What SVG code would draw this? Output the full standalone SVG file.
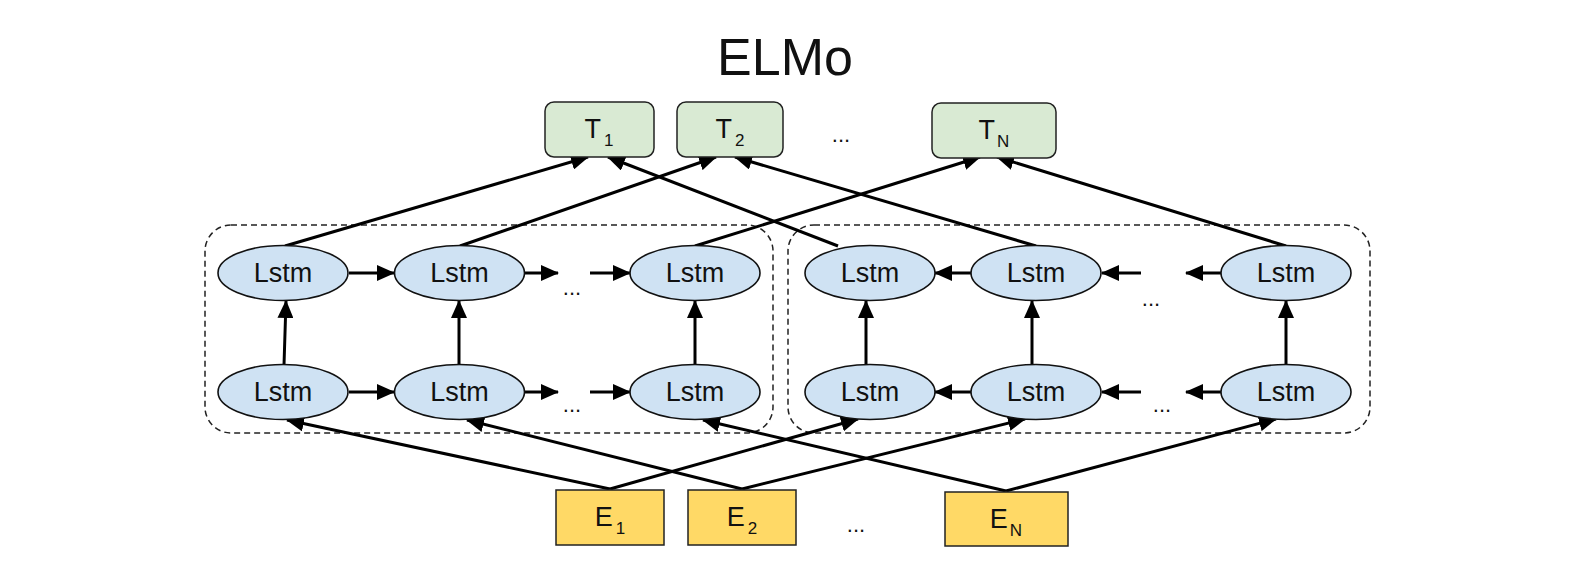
<svg xmlns="http://www.w3.org/2000/svg" width="1570" height="580" viewBox="0 0 1570 580">
<style>
  text { font-family: "Liberation Sans", Arial, sans-serif; fill: #111; }
  .title { font-size: 52px; }
  .tbox { fill: #d9ead3; stroke: #222; stroke-width: 1.5; }
  .ebox { fill: #ffd966; stroke: #222; stroke-width: 1.5; }
  .lstm { fill: #cfe2f3; stroke: #111; stroke-width: 1.6; }
  .lbl { font-size: 27px; }
  .dots { font-size: 22px; }
  .group { fill: none; stroke: #222; stroke-width: 1.5; stroke-dasharray: 6 4; }
  .edge { stroke: #000; stroke-width: 3; fill: none; }
  .arr { marker-end: url(#ah); }
</style>
<defs>
  <marker id="ah" markerUnits="userSpaceOnUse" markerWidth="18" markerHeight="16" refX="17" refY="8" orient="auto">
    <path d="M0,0 L18,8 L0,16 z" fill="#000"/>
  </marker>
</defs>
<rect width="1570" height="580" fill="#fff"/>

<text class="title" x="785" y="75" text-anchor="middle">ELMo</text>

<g id="groups">
  <rect id="forward-group" class="group" x="205" y="225" width="568" height="208" rx="26"/>
  <rect id="backward-group" class="group" x="788" y="225" width="582" height="208" rx="26"/>
</g>

<g id="connectors">
  <line class="edge arr" x1="285" y1="246" x2="588" y2="157"/>
  <line class="edge arr" x1="460" y1="246" x2="716" y2="157"/>
  <line class="edge arr" x1="695" y1="246" x2="980" y2="157"/>
  <line class="edge arr" x1="838" y1="246" x2="608" y2="157"/>
  <line class="edge arr" x1="1036" y1="246" x2="735" y2="157"/>
  <line class="edge arr" x1="1286" y1="246" x2="997" y2="157"/>
  <line class="edge arr" x1="284" y1="365" x2="286" y2="301"/>
  <line class="edge arr" x1="459" y1="365" x2="459" y2="301"/>
  <line class="edge arr" x1="695" y1="365" x2="695" y2="301"/>
  <line class="edge arr" x1="866" y1="365" x2="866" y2="301"/>
  <line class="edge arr" x1="1032" y1="365" x2="1032" y2="301"/>
  <line class="edge arr" x1="1286" y1="365" x2="1286" y2="301"/>
  <line class="edge arr" x1="349" y1="273" x2="394" y2="273"/>
  <line class="edge arr" x1="525" y1="273" x2="558" y2="273"/>
  <line class="edge arr" x1="590" y1="273" x2="630" y2="273"/>
  <line class="edge arr" x1="349" y1="392" x2="394" y2="392"/>
  <line class="edge arr" x1="525" y1="392" x2="558" y2="392"/>
  <line class="edge arr" x1="590" y1="392" x2="630" y2="392"/>
  <line class="edge arr" x1="971" y1="273" x2="935" y2="273"/>
  <line class="edge arr" x1="1141" y1="273" x2="1102" y2="273"/>
  <line class="edge arr" x1="1221" y1="273" x2="1186" y2="273"/>
  <line class="edge arr" x1="971" y1="392" x2="935" y2="392"/>
  <line class="edge arr" x1="1141" y1="392" x2="1102" y2="392"/>
  <line class="edge arr" x1="1221" y1="392" x2="1186" y2="392"/>
  <line class="edge arr" x1="610" y1="489" x2="287" y2="420"/>
  <line class="edge arr" x1="742" y1="489" x2="467" y2="420"/>
  <line class="edge arr" x1="1006" y1="491" x2="703" y2="420"/>
  <line class="edge arr" x1="610" y1="489" x2="858" y2="419"/>
  <line class="edge arr" x1="742" y1="489" x2="1025" y2="419"/>
  <line class="edge arr" x1="1006" y1="491" x2="1276" y2="419"/>
</g>

<g id="T1"><rect class="tbox" x="545" y="102" width="109" height="55" rx="9"/><text class="lbl" x="599" y="138" text-anchor="middle">T<tspan font-size="17" dx="3" dy="8">1</tspan></text></g>
<g id="T2"><rect class="tbox" x="677" y="102" width="106" height="55" rx="9"/><text class="lbl" x="730" y="138" text-anchor="middle">T<tspan font-size="17" dx="3" dy="8">2</tspan></text></g>
<text class="dots" x="841" y="142" text-anchor="middle">...</text>
<g id="TN"><rect class="tbox" x="932" y="103" width="124" height="55" rx="9"/><text class="lbl" x="994" y="139" text-anchor="middle">T<tspan font-size="17" dx="2" dy="8">N</tspan></text></g>

<g id="lstm-f1-top"><ellipse class="lstm" cx="283" cy="273" rx="65" ry="27.5"/><text class="lbl" x="283" y="282" text-anchor="middle">Lstm</text></g>
<g id="lstm-f2-top"><ellipse class="lstm" cx="459.5" cy="273" rx="65" ry="27.5"/><text class="lbl" x="459.5" y="282" text-anchor="middle">Lstm</text></g>
<text class="dots" x="572" y="295" text-anchor="middle">...</text>
<g id="lstm-f3-top"><ellipse class="lstm" cx="695" cy="273" rx="65" ry="27.5"/><text class="lbl" x="695" y="282" text-anchor="middle">Lstm</text></g>
<g id="lstm-f1-bot"><ellipse class="lstm" cx="283" cy="392" rx="65" ry="27.5"/><text class="lbl" x="283" y="401" text-anchor="middle">Lstm</text></g>
<g id="lstm-f2-bot"><ellipse class="lstm" cx="459.5" cy="392" rx="65" ry="27.5"/><text class="lbl" x="459.5" y="401" text-anchor="middle">Lstm</text></g>
<text class="dots" x="572" y="412" text-anchor="middle">...</text>
<g id="lstm-f3-bot"><ellipse class="lstm" cx="695" cy="392" rx="65" ry="27.5"/><text class="lbl" x="695" y="401" text-anchor="middle">Lstm</text></g>

<g id="lstm-b1-top"><ellipse class="lstm" cx="870" cy="273" rx="65" ry="27.5"/><text class="lbl" x="870" y="282" text-anchor="middle">Lstm</text></g>
<g id="lstm-b2-top"><ellipse class="lstm" cx="1036" cy="273" rx="65" ry="27.5"/><text class="lbl" x="1036" y="282" text-anchor="middle">Lstm</text></g>
<text class="dots" x="1151" y="306" text-anchor="middle">...</text>
<g id="lstm-b3-top"><ellipse class="lstm" cx="1286" cy="273" rx="65" ry="27.5"/><text class="lbl" x="1286" y="282" text-anchor="middle">Lstm</text></g>
<g id="lstm-b1-bot"><ellipse class="lstm" cx="870" cy="392" rx="65" ry="27.5"/><text class="lbl" x="870" y="401" text-anchor="middle">Lstm</text></g>
<g id="lstm-b2-bot"><ellipse class="lstm" cx="1036" cy="392" rx="65" ry="27.5"/><text class="lbl" x="1036" y="401" text-anchor="middle">Lstm</text></g>
<text class="dots" x="1162" y="412" text-anchor="middle">...</text>
<g id="lstm-b3-bot"><ellipse class="lstm" cx="1286" cy="392" rx="65" ry="27.5"/><text class="lbl" x="1286" y="401" text-anchor="middle">Lstm</text></g>

<g id="E1"><rect class="ebox" x="556" y="490" width="108" height="55"/><text class="lbl" x="610" y="526" text-anchor="middle">E<tspan font-size="17" dx="3" dy="8">1</tspan></text></g>
<g id="E2"><rect class="ebox" x="688" y="490" width="108" height="55"/><text class="lbl" x="742" y="526" text-anchor="middle">E<tspan font-size="17" dx="3" dy="8">2</tspan></text></g>
<text class="dots" x="856" y="532" text-anchor="middle">...</text>
<g id="EN"><rect class="ebox" x="945" y="492" width="123" height="54"/><text class="lbl" x="1006" y="528" text-anchor="middle">E<tspan font-size="17" dx="2" dy="8">N</tspan></text></g>
</svg>
